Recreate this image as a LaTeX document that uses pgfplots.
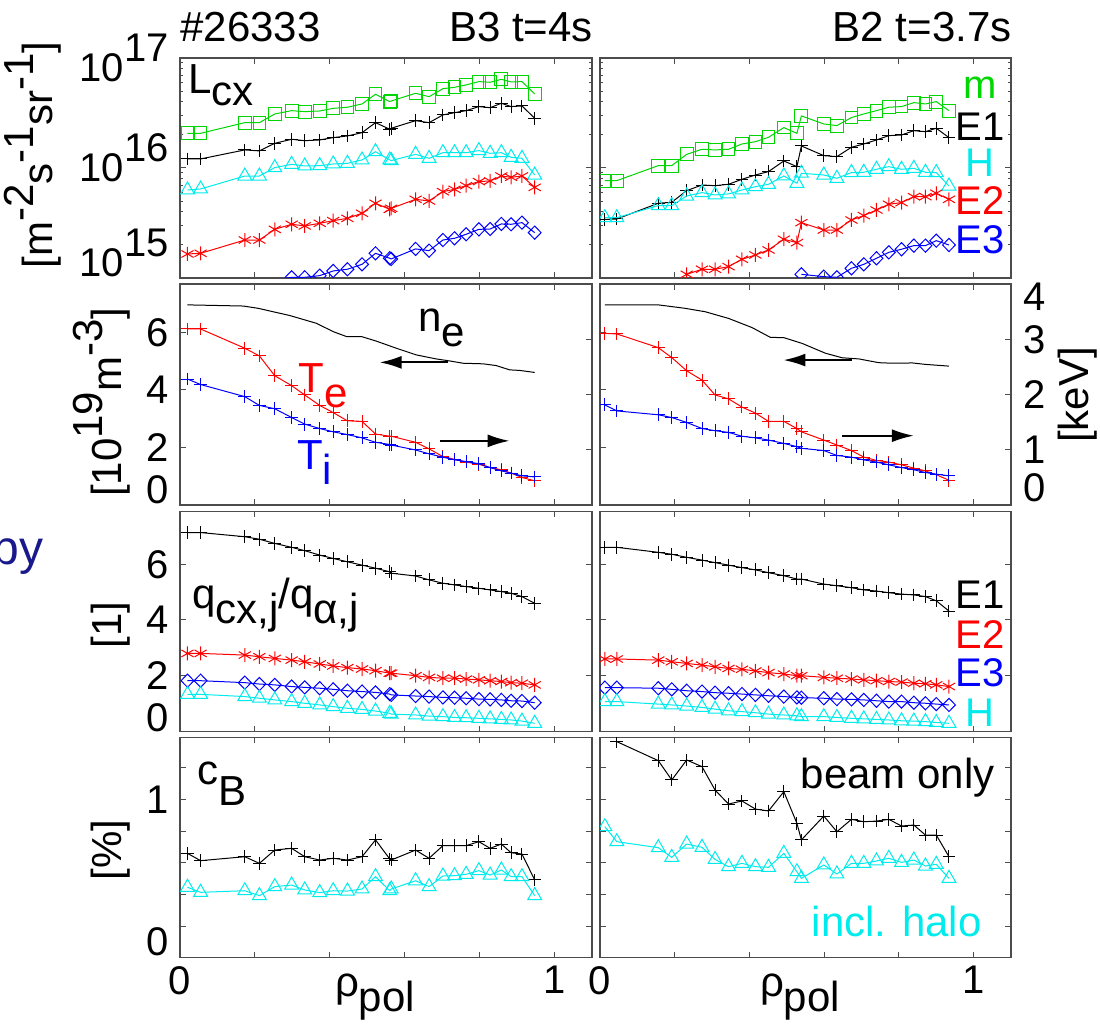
\documentclass[border=0pt]{standalone}
\usepackage{pgfplots}
\pgfplotsset{compat=1.18}
\usepackage{pgfplotstable}
\usepackage{fontspec}
\setmainfont{Liberation Sans}
\usetikzlibrary{arrows.meta}
\definecolor{grn}{RGB}{0,215,0}
\definecolor{cyn}{RGB}{0,235,235}
\definecolor{navy}{RGB}{25,25,140}
\newcommand\fs{\fontsize{20}{22}\selectfont}
\newcommand\ft{\fontsize{21}{23}\selectfont}
\newcommand\lo[2][0.35em]{\raisebox{-#1}{#2}}
\newcommand\hi[1]{\raisebox{0.47em}{#1}}
\newcommand\hz[1]{\raisebox{0.5em}[0pt][0pt]{#1}}
\newcommand\sh[2]{\raisebox{#1}[\height][\depth]{#2}}

\pgfplotstableread{
x G K C R B
0.020 2.065e16 1.208e16 6.31e15 1.652e15 nan
0.055 2.065e16 1.208e16 6.44e15 1.675e15 nan
0.173 2.582e16 1.459e16 8.45e15 2.213e15 nan
0.212 2.582e16 1.429e16 8.45e15 2.213e15 nan
0.253 3.097e16 1.675e16 1.007e16 2.767e15 9.6e14
0.298 3.319e16 1.823e16 1.079e16 3.076e15 1.014e15
0.333 3.251e16 1.770e16 1.042e16 2.972e15 1.014e15
0.373 3.296e16 1.798e16 1.050e16 3.141e15 1.050e15
0.409 3.483e16 1.888e16 1.087e16 3.319e15 1.158e15
0.447 3.565e16 1.954e16 1.102e16 3.483e15 1.200e15
0.486 3.819e16 2.094e16 1.183e16 3.873e15 1.330e15
0.522 4.677e16 2.582e16 1.406e16 4.775e15 1.675e15
0.560 4.009e16 2.249e16 1.183e16 4.207e15 1.510e15
0.564 4.064e16 2.296e16 1.167e16 4.295e15 1.489e15
0.629 4.775e16 2.692e16 1.330e16 5.188e15 1.837e15
0.665 4.446e16 2.582e16 1.224e16 5.012e15 1.772e15
0.702 5.260e16 3.034e16 1.377e16 6.095e15 2.213e15
0.733 5.408e16 3.184e16 1.377e16 6.397e15 2.294e15
0.764 5.689e16 3.319e16 1.377e16 6.902e15 2.496e15
0.798 6.095e16 3.614e16 1.439e16 7.516e15 2.767e15
0.828 6.012e16 3.532e16 1.359e16 7.621e15 2.787e15
0.858 6.397e16 3.873e16 1.377e16 8.453e15 3.097e15
0.884 6.053e16 3.614e16 1.250e16 8.222e15 3.076e15
0.913 6.095e16 3.664e16 1.224e16 8.453e15 3.184e15
0.947 4.710e16 2.831e16 8.63e15 6.668e15 2.582e15
}\rAa

\pgfplotstableread{
x G K C R B
0.013 7.67e15 3.410e15 3.532e15 nan nan
0.045 7.67e15 3.436e15 3.532e15 nan nan
0.156 1.050e16 4.775e15 4.550e15 nan nan
0.192 1.050e16 4.875e15 4.550e15 nan nan
0.232 1.330e16 6.223e15 5.559e15 1.079e15 nan
0.273 1.479e16 7.000e15 5.970e15 1.200e15 nan
0.308 1.459e16 6.902e15 5.689e15 1.200e15 nan
0.344 1.479e16 7.109e15 5.807e15 1.268e15 nan
0.380 1.652e16 7.893e15 6.310e15 1.479e15 nan
0.416 1.734e16 8.63e15 6.761e15 1.618e15 nan
0.451 1.901e16 9.27e15 7.109e15 1.798e15 nan
0.492 2.328e16 1.158e16 8.453e15 2.249e15 nan
0.527 2.065e16 1.028e16 7.261e15 2.094e15 nan
0.539 2.972e16 1.585e16 8.954e15 3.184e15 1.079e15
0.599 2.512e16 1.294e16 8.63e15 2.729e15 1.028e15
0.634 2.427e16 1.268e16 8.054e15 2.729e15 1.014e15
0.673 2.871e16 1.542e16 9.08e15 3.365e15 1.224e15
0.706 3.097e16 1.652e16 9.14e15 3.690e15 1.330e15
0.740 3.319e16 1.798e16 9.73e15 4.150e15 1.510e15
0.773 3.565e16 1.968e16 1.028e16 4.677e15 1.710e15
0.807 3.614e16 1.995e16 9.73e15 4.842e15 1.824e15
0.840 3.926e16 2.183e16 9.93e15 5.483e15 1.968e15
0.871 3.819e16 2.138e16 9.14e15 5.483e15 1.968e15
0.900 4.009e16 2.296e16 9.08e15 5.888e15 2.183e15
0.934 3.319e16 1.888e16 6.855e15 5.188e15 1.995e15
}\rAb

\pgfplotstableread{
x Te Ti
0.020 3.20 2.29
0.055 3.20 2.19
0.173 2.85 1.97
0.212 2.71 1.81
0.253 2.35 1.75
0.298 2.17 1.59
0.333 2.00 1.47
0.373 1.81 1.39
0.409 1.68 1.33
0.447 1.53 1.28
0.486 1.52 1.22
0.522 1.29 1.14
0.560 1.25 1.10
0.564 1.25 1.09
0.629 1.14 1.00
0.665 1.02 0.93
0.702 0.88 0.87
0.733 0.83 0.82
0.764 0.78 0.79
0.798 0.74 0.75
0.828 0.68 0.68
0.858 0.64 0.62
0.884 0.58 0.58
0.913 0.50 0.53
0.947 0.44 0.51
}\rBa

\pgfplotstableread{
x Te Ti
0.013 3.12 1.82
0.045 3.11 1.71
0.156 2.86 1.64
0.192 2.68 1.59
0.232 2.44 1.50
0.273 2.27 1.39
0.308 2.00 1.35
0.344 1.93 1.32
0.380 1.78 1.25
0.416 1.67 1.22
0.451 1.52 1.18
0.492 1.52 1.12
0.527 1.39 1.06
0.539 1.33 1.03
0.599 1.18 0.99
0.634 1.09 0.90
0.673 0.99 0.87
0.706 0.87 0.82
0.740 0.81 0.78
0.773 0.78 0.73
0.807 0.73 0.68
0.840 0.67 0.64
0.871 0.62 0.59
0.900 0.55 0.56
0.934 0.45 0.53
}\rBb

\pgfplotstableread{
x ne
0.020 6.96
0.169 6.92
0.209 6.84
0.249 6.72
0.293 6.59
0.364 6.32
0.409 6.03
0.444 5.86
0.484 5.86
0.524 5.70
0.578 5.45
0.631 5.22
0.684 5.08
0.720 5.01
0.756 4.93
0.809 4.91
0.844 4.85
0.880 4.70
0.907 4.68
0.947 4.61
}\nea

\pgfplotstableread{
x ne
0.013 6.96
0.156 6.96
0.228 6.84
0.282 6.72
0.344 6.49
0.407 6.17
0.456 5.83
0.492 5.82
0.541 5.62
0.603 5.28
0.648 5.12
0.693 5.08
0.746 4.95
0.782 4.93
0.836 4.94
0.871 4.89
0.934 4.83
}\neb

\pgfplotstableread{
x K R B C
0.020 7.14 2.80 1.82 1.33
0.055 7.14 2.80 1.82 1.33
0.173 6.99 2.74 1.75 1.25
0.212 6.90 2.68 1.70 1.19
0.253 6.75 2.62 1.67 1.13
0.298 6.61 2.56 1.61 1.07
0.333 6.49 2.50 1.58 1.01
0.373 6.33 2.42 1.55 0.95
0.409 6.21 2.35 1.51 0.89
0.447 6.09 2.29 1.46 0.83
0.486 5.97 2.24 1.43 0.79
0.522 5.86 2.18 1.40 0.73
0.560 5.73 2.09 1.34 0.65
0.564 5.68 2.09 1.31 0.62
0.629 5.58 2.00 1.27 0.59
0.665 5.44 1.94 1.25 0.55
0.702 5.32 1.91 1.22 0.53
0.733 5.26 1.91 1.21 0.50
0.764 5.20 1.88 1.19 0.49
0.798 5.14 1.85 1.16 0.47
0.828 5.08 1.82 1.15 0.45
0.858 5.02 1.79 1.13 0.43
0.884 4.96 1.75 1.10 0.41
0.913 4.84 1.73 1.09 0.37
0.947 4.60 1.67 1.03 0.29
}\rCa

\pgfplotstableread{
x K R B C
0.013 6.61 2.60 1.57 1.07
0.045 6.61 2.60 1.57 1.07
0.156 6.43 2.56 1.55 0.98
0.192 6.36 2.50 1.51 0.95
0.232 6.25 2.44 1.46 0.91
0.273 6.15 2.38 1.43 0.86
0.308 6.06 2.32 1.39 0.80
0.344 5.97 2.26 1.37 0.74
0.380 5.88 2.23 1.34 0.71
0.416 5.80 2.17 1.31 0.67
0.451 5.70 2.11 1.28 0.62
0.492 5.59 2.06 1.25 0.59
0.527 5.47 2.00 1.22 0.56
0.539 5.47 2.00 1.21 0.53
0.599 5.29 1.94 1.19 0.53
0.634 5.23 1.91 1.16 0.50
0.673 5.16 1.88 1.15 0.47
0.706 5.08 1.85 1.13 0.45
0.740 5.04 1.82 1.10 0.43
0.773 4.98 1.79 1.07 0.41
0.807 4.93 1.77 1.07 0.38
0.840 4.90 1.73 1.03 0.37
0.871 4.84 1.71 1.01 0.35
0.900 4.69 1.67 0.98 0.32
0.934 4.32 1.61 0.95 0.29
}\rCb

\pgfplotstableread{
x K C
0.020 0.659 0.445
0.055 0.613 0.413
0.173 0.638 0.423
0.212 0.596 0.392
0.253 0.680 0.449
0.298 0.691 0.459
0.333 0.638 0.428
0.373 0.617 0.411
0.409 0.628 0.423
0.447 0.617 0.421
0.486 0.638 0.434
0.522 0.744 0.512
0.560 0.624 0.423
0.564 0.617 0.434
0.629 0.680 0.486
0.665 0.628 0.449
0.702 0.708 0.516
0.733 0.708 0.518
0.764 0.708 0.527
0.798 0.733 0.550
0.828 0.691 0.522
0.858 0.718 0.554
0.884 0.663 0.512
0.913 0.655 0.512
0.947 0.491 0.392
}\rDa

\pgfplotstableread{
x K C
0.013 nan 0.828
0.045 1.365 0.733
0.156 1.245 0.695
0.192 1.123 0.634
0.232 1.249 0.718
0.273 1.207 0.697
0.308 1.059 0.621
0.344 0.971 0.575
0.380 0.990 0.596
0.416 0.939 0.575
0.451 0.927 0.571
0.492 1.049 0.659
0.527 0.849 0.543
0.539 0.744 0.501
0.599 0.895 0.586
0.634 0.796 0.529
0.673 0.874 0.596
0.706 0.859 0.596
0.740 0.863 0.611
0.773 0.874 0.628
0.807 0.832 0.602
0.840 0.838 0.617
0.871 0.775 0.579
0.900 0.775 0.590
0.934 0.638 0.501
}\rDb

\pgfplotsset{
 panel/.style={scale only axis, anchor=south west, width=206pt, height=110pt,
  xmin=0, xmax=1.1, xtick={0,0.2,0.4,0.6,0.8,1}, xticklabels={},
  tick align=inside, major tick length=2.8pt, minor tick length=1.6pt,
  axis line style={black!70, line width=0.6pt},
  tick style={black!70, line width=0.5pt},
  clip marker paths=true,
  ticklabel style={font=\fs},
  yticklabel style={inner sep=5.5pt},
  xticklabel style={inner sep=4pt},
 },
 c2/.style={width=205.5pt, yticklabels={}},
 sG/.style={grn, mark=square, mark size=3.2pt, line width=0.5pt, mark options={solid}},
 sK/.style={black, mark=+, mark size=3.2pt, line width=0.5pt},
 sC/.style={cyn, mark=triangle, mark size=4pt, line width=0.5pt},
 sR/.style={red, mark=asterisk, mark size=3.5pt, line width=0.5pt},
 sB/.style={blue, mark=diamond, mark size=3.3pt, mark options={xscale=1.3}, line width=0.5pt},
 sP/.style={mark=+, mark size=3.2pt, line width=0.5pt},
}
\tikzset{arr/.style={-{Latex[length=11pt,width=6.5pt]}, line width=1pt, black}}

\begin{document}
\begin{tikzpicture}
\path[use as bounding box] (0,0) rectangle (550pt,513pt);

% ---------- row 1 ----------
\begin{axis}[panel, at={(90pt,374pt)}, ymode=log, ymin=1e15, ymax=1e17,
  ytick={1e15,1e16,1e17},
  minor ytick={2e15,3e15,4e15,5e15,6e15,7e15,8e15,9e15,2e16,3e16,4e16,5e16,6e16,7e16,8e16,9e16},
  yticklabels={\sh{7.5pt}{10\hz{15}},\sh{0pt}{10\hz{16}},\sh{-5pt}{10\hz{17}}}]
\addplot[sG] table[x=x,y=G]{\rAa};
\addplot[sK] table[x=x,y=K]{\rAa};
\addplot[sC] table[x=x,y=C]{\rAa};
\addplot[sR] table[x=x,y=R]{\rAa};
\addplot[sB] table[x=x,y=B]{\rAa};
\end{axis}
\begin{axis}[panel, c2, at={(300pt,374pt)}, ymode=log, ymin=1e15, ymax=1e17,
  ytick={1e15,1e16,1e17},
  minor ytick={2e15,3e15,4e15,5e15,6e15,7e15,8e15,9e15,2e16,3e16,4e16,5e16,6e16,7e16,8e16,9e16}]
\addplot[sG] table[x=x,y=G]{\rAb};
\addplot[sK] table[x=x,y=K]{\rAb};
\addplot[sC] table[x=x,y=C]{\rAb};
\addplot[sR] table[x=x,y=R]{\rAb};
\addplot[sB] table[x=x,y=B]{\rAb};
\end{axis}

% ---------- row 2 ----------
\begin{axis}[panel, at={(90pt,260.5pt)}, height=110.5pt, ymin=0, ymax=7.687,
  ytick={0,2,4,6}, yticklabels={\sh{7.5pt}{0},2,4,6}, ytick pos=left]
\addplot[black, line width=0.5pt, no marks] table[x=x,y=ne]{\nea};
\draw[arr] (axis cs:0.715,4.96) -- (axis cs:0.533,4.96);
\draw[arr] (axis cs:0.693,2.23) -- (axis cs:0.880,2.23);
\end{axis}
\begin{axis}[panel, at={(90pt,260.5pt)}, height=110.5pt, ymin=0, ymax=4.018,
  hide x axis, axis y line*=right, ytick={1,2,3}, yticklabels={}]
\addplot[sP, red] table[x=x,y=Te]{\rBa};
\addplot[sP, blue] table[x=x,y=Ti]{\rBa};
\end{axis}
\begin{axis}[panel, c2, at={(300pt,260.5pt)}, height=110.5pt, ymin=0, ymax=7.687,
  ytick={0,2,4,6}, ytick pos=left]
\addplot[black, line width=0.5pt, no marks] table[x=x,y=ne]{\neb};
\draw[arr] (axis cs:0.675,5.04) -- (axis cs:0.491,5.04);
\draw[arr] (axis cs:0.648,2.41) -- (axis cs:0.840,2.41);
\end{axis}
\begin{axis}[panel, width=205.5pt, at={(300pt,260.5pt)}, height=110.5pt, ymin=0, ymax=4.018,
  hide x axis, axis y line*=right, ytick={0,1,2,3,4},
  yticklabels={\sh{8.5pt}{0},1,2,3,\sh{-6pt}{4}}, yticklabel style={inner sep=6pt}]
\addplot[sP, red] table[x=x,y=Te]{\rBb};
\addplot[sP, blue] table[x=x,y=Ti]{\rBb};
\end{axis}

% ---------- row 3 ----------
\begin{axis}[panel, at={(90pt,147.3pt)}, ymin=0, ymax=7.9,
  ytick={0,2,4,6}, yticklabels={\sh{6.7pt}{0},2,4,6}]
\addplot[sK] table[x=x,y=K]{\rCa};
\addplot[sR] table[x=x,y=R]{\rCa};
\addplot[sB] table[x=x,y=B]{\rCa};
\addplot[sC] table[x=x,y=C]{\rCa};
\end{axis}
\begin{axis}[panel, c2, at={(300pt,147.3pt)}, ymin=0, ymax=7.9, ytick={0,2,4,6}]
\addplot[sK] table[x=x,y=K]{\rCb};
\addplot[sR] table[x=x,y=R]{\rCb};
\addplot[sB] table[x=x,y=B]{\rCb};
\addplot[sC] table[x=x,y=C]{\rCb};
\end{axis}

% ---------- row 4 ----------
\begin{axis}[panel, at={(90pt,34.15pt)}, ymin=0, ymax=1.39,
  ytick={0,0.2,0.4,0.6,0.8,1,1.2}, yticklabels={\sh{8pt}{0},,,,,1,},
  xticklabels={0,,,,,1}]
\addplot[sK] table[x=x,y=K]{\rDa};
\addplot[sC] table[x=x,y=C]{\rDa};
\end{axis}
\begin{axis}[panel, c2, at={(300pt,34.15pt)}, ymin=0, ymax=1.39,
  ytick={0,0.2,0.4,0.6,0.8,1,1.2}, xticklabels={0,,,,,1}]
\addplot[sK] table[x=x,y=K]{\rDb};
\addplot[sC] table[x=x,y=C]{\rDb};
\end{axis}

% ---------- texts ----------
\begin{scope}[every node/.style={font=\ft, inner sep=0pt}]
\node[anchor=base west] at (90pt,492pt) {\#26333};
\node[anchor=base east] at (296.5pt,492pt) {B3 t=4s};
\node[anchor=base east] at (506pt,492pt) {B2 t=3.7s};

\node[anchor=base west] at (94pt,466.3pt) {L\lo[0.3em]{cx}};
\node[anchor=base west] at (209pt,347.2pt) {n\lo{e}};
\node[anchor=base west, red] at (149.2pt,316.5pt) {T\lo{e}};
\node[anchor=base west, blue] at (148.3pt,278pt) {T\lo{i}};
\node[anchor=base west] at (95.8pt,208.8pt) {q\lo{cx,j}/q\lo{α,j}};
\node[anchor=base west] at (98.3pt,120.5pt) {c\lo[0.5em]{B}};

\node[anchor=base, grn, font=\fs] at (490pt,463.8pt) {m};
\node[anchor=base, font=\fs] at (490pt,442.6pt) {E1};
\node[anchor=base, cyn, font=\fs] at (490pt,424.5pt) {H};
\node[anchor=base, red, font=\fs] at (490pt,405.5pt) {E2};
\node[anchor=base, blue, font=\fs] at (490pt,386.3pt) {E3};

\node[anchor=base, font=\fs] at (490pt,208.8pt) {E1};
\node[anchor=base, red, font=\fs] at (490pt,188.8pt) {E2};
\node[anchor=base, blue, font=\fs] at (490pt,169.7pt) {E3};
\node[anchor=base, cyn, font=\fs] at (490pt,149.7pt) {H};

\node[anchor=base east] at (497.5pt,118.8pt) {beam only};
\node[anchor=base east, cyn] at (491pt,44.7pt) {incl. halo};

\node[anchor=base] at (187.5pt,14.5pt) {ρ\lo{pol}};
\node[anchor=base] at (400pt,14.5pt) {ρ\lo{pol}};

\node[anchor=base, rotate=90] at (26.5pt,435.5pt) {[m\hi{-2}s\hi{-1}sr\hi{-1}]};
\node[anchor=base, rotate=90] at (61pt,311.8pt) {[10\hi{19}m\hi{-3}]};
\node[anchor=base, rotate=90] at (61pt,200.5pt) {[1]};
\node[anchor=base, rotate=90] at (61pt,88pt) {[\%]};
\node[anchor=base, rotate=90] at (544pt,315.5pt) {[keV]};

\node[anchor=base west, navy, font=\fontsize{24}{26}\selectfont] at (-4pt,230.5pt) {py};
\end{scope}
\end{tikzpicture}
\end{document}
